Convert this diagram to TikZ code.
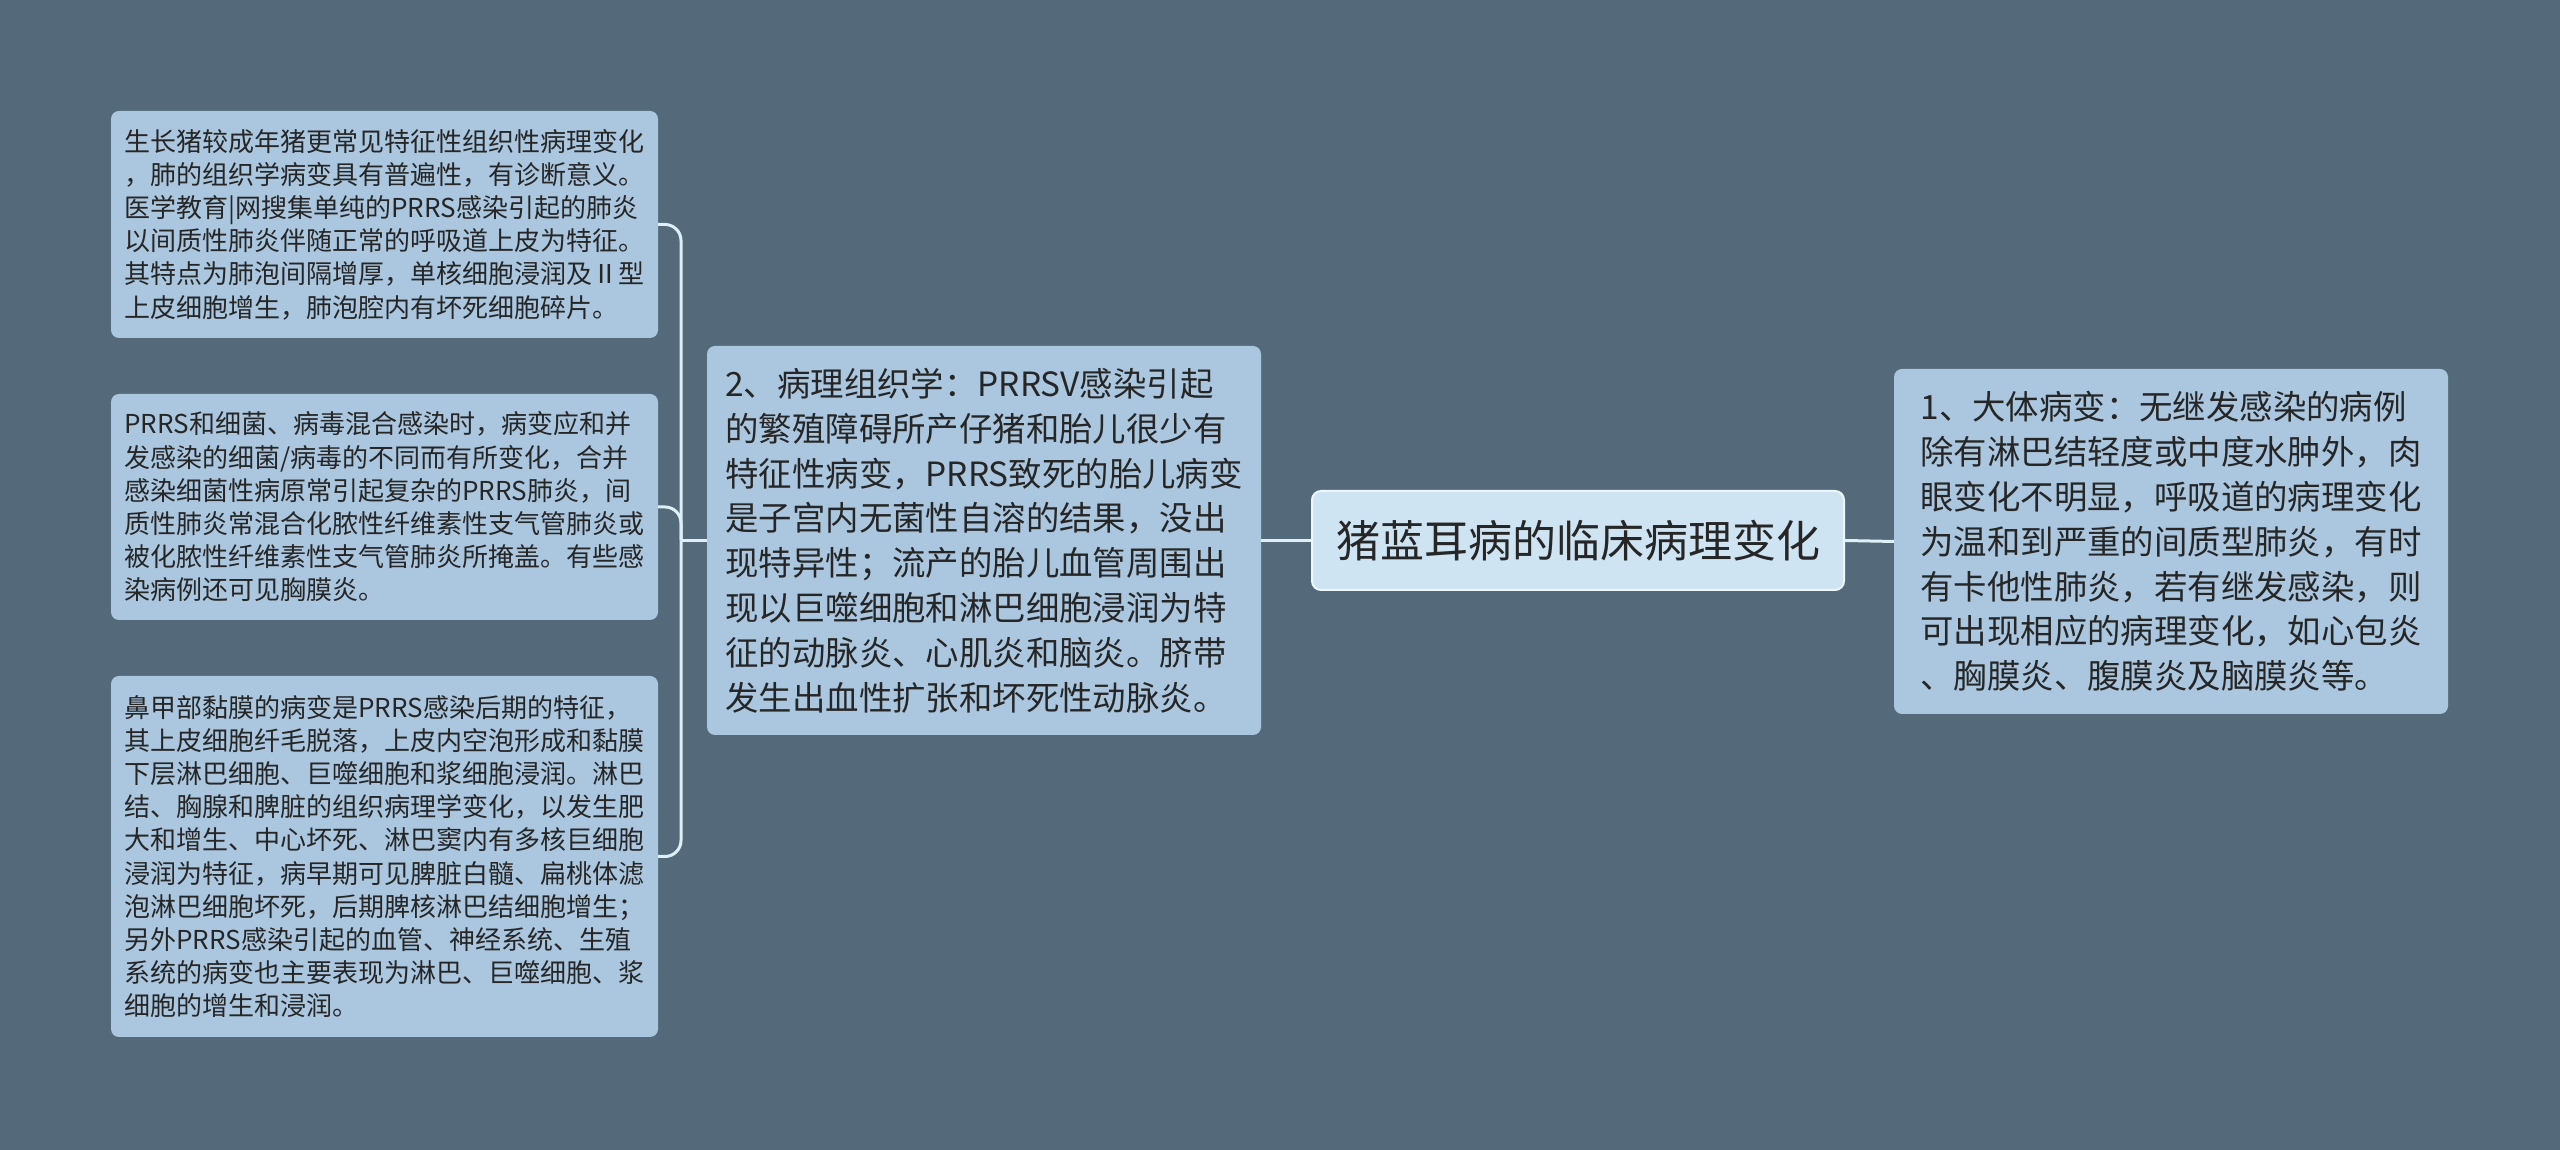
\documentclass[tikz,border=0pt]{standalone}
\usepackage{fontspec}
\setmainfont{Noto Sans CJK SC}
\definecolor{bgc}{RGB}{84,106,122}
\definecolor{boxc}{RGB}{170,199,223}
\definecolor{ctrc}{RGB}{207,228,242}
\definecolor{ctrb}{RGB}{236,246,251}
\definecolor{linec}{RGB}{221,239,247}
\definecolor{txtc}{RGB}{38,38,38}
\begin{document}
\begin{tikzpicture}[x=1pt,y=1pt,
  leaf/.style={fill=boxc, rounded corners=8pt, align=left, text=txtc, inner sep=0pt, anchor=center},
  small/.style={leaf, font=\fontsize{26}{33.2}\selectfont},
  big/.style={leaf, font=\fontsize{33.4}{44.8}\selectfont},
  ctrbox/.style={fill=ctrc, draw=ctrb, line width=2pt, rounded corners=9pt, text=txtc, inner sep=0pt, font=\fontsize{44}{52}\selectfont},
  conn/.style={draw=linec, line width=3pt, rounded corners=16pt}]
\useasboundingbox (0,0) rectangle (2560,1150);
\fill[bgc] (0,0) rectangle (2560,1150);

\node[small, minimum width=547pt, minimum height=227pt] (b1) at (384.5,925.5) {生长猪较成年猪更常见特征性组织性病理变化\\，肺的组织学病变具有普遍性，有诊断意义。\\医学教育|网搜集单纯的PRRS感染引起的肺炎\\以间质性肺炎伴随正常的呼吸道上皮为特征。\\其特点为肺泡间隔增厚，单核细胞浸润及Ⅱ型\\上皮细胞增生，肺泡腔内有坏死细胞碎片。};

\node[small, minimum width=547pt, minimum height=226pt] (b2) at (384.5,643) {PRRS和细菌、病毒混合感染时，病变应和并\\发感染的细菌/病毒的不同而有所变化，合并\\感染细菌性病原常引起复杂的PRRS肺炎，间\\质性肺炎常混合化脓性纤维素性支气管肺炎或\\被化脓性纤维素性支气管肺炎所掩盖。有些感\\染病例还可见胸膜炎。};

\node[small, minimum width=547pt, minimum height=361pt] (b3) at (384.5,293.5) {鼻甲部黏膜的病变是PRRS感染后期的特征，\\其上皮细胞纤毛脱落，上皮内空泡形成和黏膜\\下层淋巴细胞、巨噬细胞和浆细胞浸润。淋巴\\结、胸腺和脾脏的组织病理学变化，以发生肥\\大和增生、中心坏死、淋巴窦内有多核巨细胞\\浸润为特征，病早期可见脾脏白髓、扁桃体滤\\泡淋巴细胞坏死，后期脾核淋巴结细胞增生；\\另外PRRS感染引起的血管、神经系统、生殖\\系统的病变也主要表现为淋巴、巨噬细胞、浆\\细胞的增生和浸润。};

\node[big, minimum width=554pt, minimum height=389pt] (mid) at (984,609.5) {2、病理组织学：PRRSV感染引起\\的繁殖障碍所产仔猪和胎儿很少有\\特征性病变，PRRS致死的胎儿病变\\是子宫内无菌性自溶的结果，没出\\现特异性；流产的胎儿血管周围出\\现以巨噬细胞和淋巴细胞浸润为特\\征的动脉炎、心肌炎和脑炎。脐带\\发生出血性扩张和坏死性动脉炎。};

\node[ctrbox, minimum width=532pt, minimum height=99pt] (ctr) at (1578,609.5) {猪蓝耳病的临床病理变化};

\node[big, minimum width=554pt, minimum height=345pt] (rt) at (2171,608.5) {1、大体病变：无继发感染的病例\\除有淋巴结轻度或中度水肿外，肉\\眼变化不明显，呼吸道的病理变化\\为温和到严重的间质型肺炎，有时\\有卡他性肺炎，若有继发感染，则\\可出现相应的病理变化，如心包炎\\、胸膜炎、腹膜炎及脑膜炎等。};

\coordinate (bus) at (681,609.5);
\draw[conn, rounded corners=0pt] (mid.west) -- (bus);
\draw[conn] (bus) |- (b1.east);
\draw[conn] (bus) |- (b2.east);
\draw[conn] (bus) |- (b3.east);
\draw[conn] (ctr.west) -- (mid.east);
\draw[conn] (ctr.east) -- (rt.west);
\end{tikzpicture}
\end{document}
